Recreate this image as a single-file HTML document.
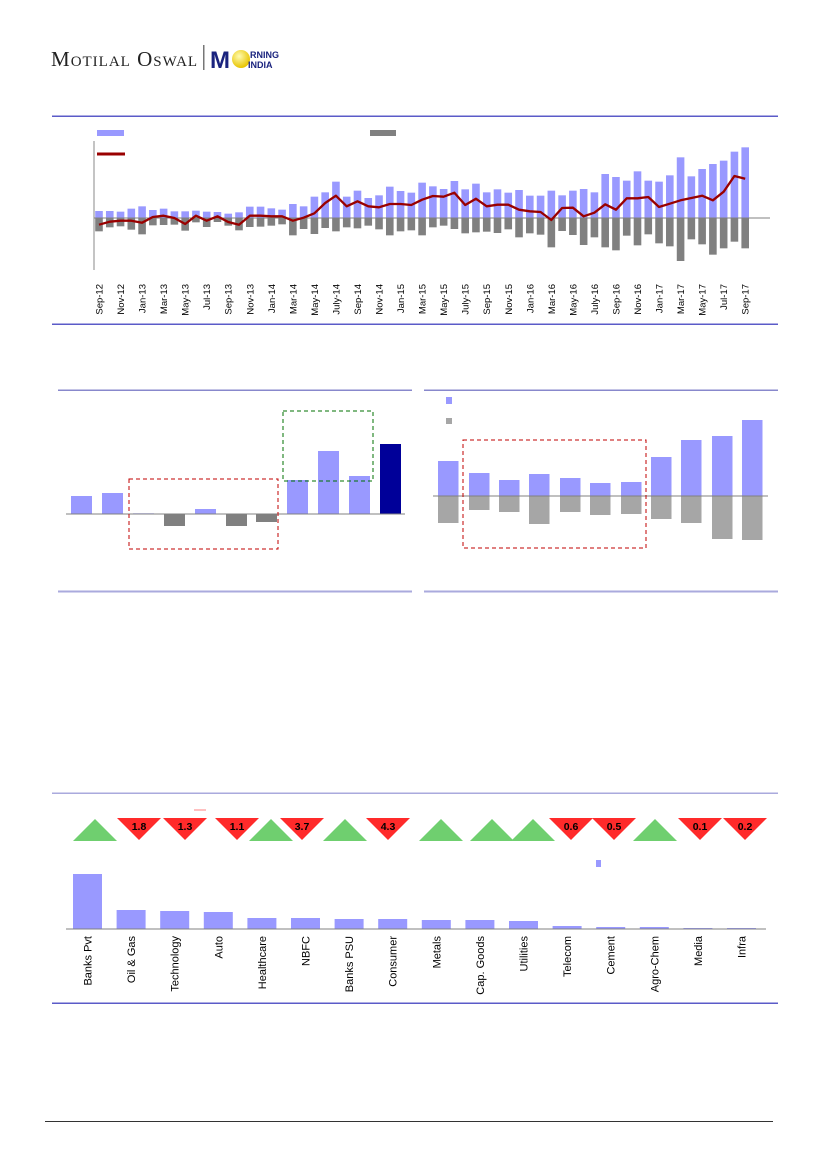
<!DOCTYPE html>
<html><head><meta charset="utf-8"><style>
html,body{margin:0;padding:0;background:#fff;}
svg{display:block;font-family:"Liberation Sans",sans-serif;}
</style></head><body>
<svg id="s" width="827" height="1169" viewBox="0 0 827 1169" xmlns="http://www.w3.org/2000/svg">
<defs><radialGradient id="sun" cx="40%" cy="35%" r="65%"><stop offset="0" stop-color="#fffbb0"/><stop offset="1" stop-color="#e8c400"/></radialGradient></defs>
<text x="51" y="66" font-family="Liberation Serif,serif" font-size="21" fill="#222" letter-spacing="1">M<tspan font-size="15">OTILAL</tspan> O<tspan font-size="15">SWAL</tspan></text>
<rect x="203" y="45" width="1.5" height="25" fill="#777"/>
<text x="210" y="68" font-size="24" font-weight="bold" fill="#1a237e">M</text>
<circle cx="241" cy="59" r="9" fill="url(#sun)"/>
<text x="250" y="58" font-size="9" font-weight="bold" fill="#1a237e">RNING</text>
<text x="248" y="68" font-size="9" font-weight="bold" fill="#1a237e">INDIA</text>
<g id="gtop"></g>
<g id="gmid"></g>
<g id="gbot"></g>
<rect x="45" y="1121" width="728" height="1" fill="#333"/>
</svg>
<script>
(function(){
var NS="http://www.w3.org/2000/svg";
function el(p,t,a,txt){var e=document.createElementNS(NS,t);for(var k in a)e.setAttribute(k,a[k]);if(txt!==undefined)e.textContent=txt;p.appendChild(e);return e;}
var gt=document.getElementById('gtop');
el(gt,'rect',{x:52,y:115.5,width:726,height:1.5,fill:'#5b5bc8'});
el(gt,'rect',{x:52,y:323.5,width:726,height:1.5,fill:'#5b5bc8'});
el(gt,'rect',{x:97,y:130,width:27,height:6,fill:'#9999ff'});
el(gt,'rect',{x:370,y:130,width:26,height:6,fill:'#808080'});
el(gt,'rect',{x:97,y:152.5,width:28,height:3,fill:'#990000'});
el(gt,'rect',{x:93.5,y:141,width:1,height:129,fill:'#888'});
var P=[304,304,306,297,290,301,297,305,305,303,306,307,312,308,291,291,296,300,283,290,261,248,216,261,243,265,257,231,244,249,219,230,238,214,239,222,248,239,249,241,258,258,243,257,243,238,248,193,202,213,185,213,216,197,143,200,178,163,153,126,113];
var N=[365,353,350,360,374,347,346,345,363,338,352,337,348,362,352,351,348,344,377,358,373,355,365,353,356,348,359,377,365,362,377,353,348,358,371,368,366,370,359,383,371,375,413,364,376,406,383,413,422,378,407,374,401,410,454,389,404,435,416,396,416];
var L=[345,336,333,333,339,322,318,325,343,318,333,320,337,345,318,318,320,320,333,324,311,280,258,290,275,290,293,283,283,286,270,259,261,249,286,267,290,285,285,300,305,307,331,295,294,320,309,284,300,266,266,262,292,282,272,265,258,272,246,199,207];
function Y(z){return 218-(325-z)/3;}
var mon=['Sep','Oct','Nov','Dec','Jan','Feb','Mar','Apr','May','Jun','Jul','Aug'];
var pts=[];
for(var i=0;i<61;i++){var cx=99+i*10.77;
 el(gt,'rect',{x:cx-3.8,y:Y(P[i]),width:7.6,height:218-Y(P[i]),fill:'#9999ff'});
 el(gt,'rect',{x:cx-3.8,y:218,width:7.6,height:Y(N[i])-218,fill:'#808080'});
 pts.push(cx.toFixed(1)+','+Y(L[i]).toFixed(1));
 if(i%2==0){var m=mon[i%12],yr=12+Math.floor((i+8)/12);var lab=(m=='Jul'&&yr>=14&&yr<=16?'July':m)+'-'+yr;
  el(gt,'text',{x:0,y:0,'font-size':9.5,fill:'#000','text-anchor':'end',transform:'translate('+(cx+3.5)+',284) rotate(-90)'},lab);}
}
el(gt,'rect',{x:94,y:217.5,width:676,height:1,fill:'#808080'});
el(gt,'polyline',{points:pts.join(' '),fill:'none',stroke:'#990000','stroke-width':2.3,'stroke-linejoin':'round'});
var gm=document.getElementById('gmid');
el(gm,'rect',{x:58,y:389.5,width:354,height:1.5,fill:'#8888cc'});
el(gm,'rect',{x:58,y:590.5,width:354,height:2,fill:'#aaaadd'});
el(gm,'rect',{x:424,y:389.5,width:354,height:1.5,fill:'#8888cc'});
el(gm,'rect',{x:424,y:590.5,width:354,height:2,fill:'#aaaadd'});
var LB=[[71,496],[102,493],[133,513.3],[164,526],[195,509],[226,526],[256,522],[287,480],[318,451],[349,476],[380,444]];
LB.forEach(function(b,i){var c=i==10?'#000099':(b[1]>514?'#808080':'#9999ff');var y0=Math.min(b[1],514),h=Math.abs(b[1]-514);
 el(gm,'rect',{x:b[0],y:y0,width:21,height:h,fill:c});});
el(gm,'rect',{x:66,y:513.5,width:339,height:1,fill:'#808080'});
el(gm,'rect',{x:129,y:479,width:149,height:70,fill:'none',stroke:'#c00000','stroke-width':1,'stroke-dasharray':'4,3'});
el(gm,'rect',{x:283,y:411,width:90,height:70,fill:'none',stroke:'#007000','stroke-width':1,'stroke-dasharray':'4,3'});
var RX=[438,469,499,529,560,590,621,651,681,712,742],RT=[461,473,480,474,478,483,482,457,440,436,420],RB=[523,510,512,524,512,515,514,519,523,539,540];
for(var i=0;i<11;i++){el(gm,'rect',{x:RX[i],y:RT[i],width:20.5,height:496-RT[i],fill:'#9999ff'});
 el(gm,'rect',{x:RX[i],y:496,width:20.5,height:RB[i]-496,fill:'#a6a6a6'});}
el(gm,'rect',{x:433,y:495.5,width:335,height:1,fill:'#808080'});
el(gm,'rect',{x:463,y:440,width:183,height:108,fill:'none',stroke:'#c00000','stroke-width':1,'stroke-dasharray':'4,3'});
el(gm,'rect',{x:446,y:397,width:6,height:7,fill:'#9999ff'});
el(gm,'rect',{x:446,y:418,width:6,height:6,fill:'#a6a6a6'});
var gb=document.getElementById('gbot');
el(gb,'rect',{x:52,y:792.5,width:726,height:1.5,fill:'#aaaadd'});
el(gb,'rect',{x:52,y:1002.5,width:726,height:1.5,fill:'#5b5bc8'});
el(gb,'rect',{x:194,y:809.5,width:12,height:1,fill:'#ff8080'});
var T=[[95,0],[139,'1.8'],[185,'1.3'],[237,'1.1'],[271,0],[302,'3.7'],[345,0],[388,'4.3'],[441,0],[492,0],[533,0],[571,'0.6'],[614,'0.5'],[655,0],[700,'0.1'],[745,'0.2']];
T.forEach(function(t){var x=t[0];
 if(t[1]===0)el(gb,'polygon',{points:(x-22)+',841 '+(x+22)+',841 '+x+',819',fill:'#6fcf6f'});
 else{el(gb,'polygon',{points:(x-22)+',818 '+(x+22)+',818 '+x+',840',fill:'#ff2a2a'});
  el(gb,'text',{x:x,y:830,'font-size':10.5,'font-weight':'bold','text-anchor':'middle',fill:'#000','font-family':'Liberation Sans Narrow,Liberation Sans,sans-serif'},t[1]);}});
var names=['Banks Pvt','Oil & Gas','Technology','Auto','Healthcare','NBFC','Banks PSU','Consumer','Metals','Cap. Goods','Utilities','Telecom','Cement','Agro-Chem','Media','Infra'];
var tops=[874,910,911,912,918,918,919,919,920,920,921,926,927,927,928,928];
for(var i=0;i<16;i++){var cx=87.5+i*43.6;
 el(gb,'rect',{x:cx-14.5,y:tops[i],width:29,height:929-tops[i],fill:'#9999ff'});
 el(gb,'text',{x:0,y:0,'font-size':11,fill:'#000','text-anchor':'end',transform:'translate('+(cx+4)+',936) rotate(-90)'},names[i]);}
el(gb,'rect',{x:66,y:928.5,width:700,height:1,fill:'#808080'});
el(gb,'rect',{x:596,y:860,width:5,height:7,fill:'#9999ff'});
})();
</script>
</body></html>
